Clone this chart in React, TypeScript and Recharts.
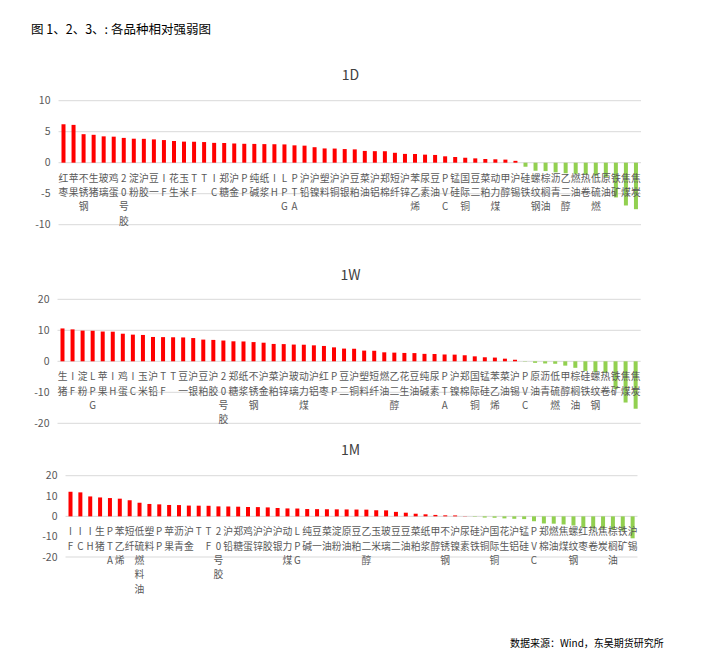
import React from "react";
import { BarChart, Bar, XAxis, YAxis, CartesianGrid, Cell } from "recharts";

// 1D
const names1D = ["红枣","苹果","不锈钢","生猪","玻璃","鸡蛋","20号胶","淀粉","沪胶","豆一","IF","花生","玉米","TF","T","IC","郑糖","沪金","PP","纯碱","纸浆","IH","LPG","PTA","沪铅","沪镍","塑料","沪铜","沪银","豆粕","菜油","沪铝","郑棉","短纤","沪锌","苯乙烯","尿素","豆油","PVC","锰硅","国际铜","豆二","菜粕","动力煤","甲醇","沪锡","硅铁","螺纹钢","棕榈油","沥青","乙二醇","燃油","热卷","低硫燃","原油","铁矿","焦煤","焦炭"];
const values1D = [6.2,6.1,4.6,4.5,4.25,4.2,4.0,3.87,3.85,3.76,3.65,3.5,3.4,3.38,3.33,3.2,3.18,3.1,3.05,3.03,3.0,2.98,2.95,2.8,2.75,2.5,2.3,2.28,2.2,2.15,1.9,1.86,1.85,1.6,1.42,1.4,1.3,1.25,1.03,0.92,0.8,0.7,0.6,0.55,0.5,0.3,-0.65,-1.3,-1.35,-1.55,-1.7,-1.8,-1.95,-2.1,-2.35,-5.6,-6.9,-7.5];

// 1W
const names1W = ["生猪","IF","淀粉","LPG","苹果","IH","鸡蛋","IC","玉米","沪铅","TF","T","豆一","沪银","豆粕","沪胶","20号胶","郑糖","纸浆","不锈钢","沪金","菜粕","沪锌","玻璃","动力煤","沪铝","红枣","PP","豆二","沪铜","塑料","短纤","燃油","乙二醇","花生","豆油","纯碱","尿素","PTA","沪镍","郑棉","国际铜","锰硅","苯乙烯","菜油","沪锡","PVC","原油","沥青","低硫燃","甲醇","棕榈油","硅铁","螺纹钢","热卷","铁矿","焦煤","焦炭"];
const values1W = [10.6,10.3,9.9,9.85,9.6,9.55,8.9,8.6,8.5,7.85,7.8,7.75,7.7,7.5,7.0,6.9,6.7,6.45,6.4,6.2,6.0,5.6,5.55,5.4,5.35,5.15,4.95,4.5,4.1,4.05,3.45,3.4,2.9,2.8,2.7,2.65,2.4,2.35,2.2,2.15,1.95,1.6,1.3,1.2,0.85,0.5,-0.1,-0.5,-0.7,-0.8,-1.4,-2.1,-3.1,-3.5,-3.7,-9.0,-13.3,-15.3];

// 1M
const names1M = ["IF","IC","IH","生猪","PTA","苯乙烯","短纤","低硫燃料油","塑料","PP","苹果","沥青","沪金","T","TF","20号胶","沪铅","郑糖","鸡蛋","沪锌","沪胶","沪银","动力煤","LPG","纯碱","豆一","菜油","淀粉","原油","豆粕","乙二醇","玉米","玻璃","豆二","豆油","菜粕","纸浆","甲醇","不锈钢","沪镍","尿素","硅铁","沪铜","国际铜","花生","沪铝","锰硅","PVC","郑棉","燃油","焦煤","螺纹钢","红枣","热卷","焦炭","棕榈油","铁矿","沪锡"];
const values1M = [12.1,11.8,9.8,9.3,9.0,8.7,7.9,6.7,6.1,5.9,5.6,5.55,5.3,5.25,5.2,4.9,4.85,4.75,4.6,4.55,4.4,4.1,3.9,3.85,3.6,3.55,3.5,3.45,3.4,3.35,3.3,3.0,2.95,2.2,1.8,1.3,1.0,0.7,0.5,0.45,0.1,-0.2,-0.6,-0.7,-1.0,-1.2,-1.35,-2.4,-3.5,-3.6,-4.0,-4.5,-5.6,-6.0,-6.1,-6.5,-7.1,-10.8];

const ticks1D = [-10, -5, 0, 5, 10];
const ticks20 = [-20, -10, 0, 10, 20];

const RED = "#FF0000";
const GREEN = "#92D050";
const FONT = "'Noto Sans CJK SC', 'Noto Sans', sans-serif";

// category names stacked one character per line, hung under the zero line
function CatTick(props: any) {
  const { x, payload, zeroY } = props;
  const chars = Array.from(String(payload.value));
  return (
    <text x={x} y={zeroY + 19} textAnchor="middle" fontSize={9.8} fill="#595959">
      {chars.map((c, i) => (
        <tspan key={i} x={x} dy={i === 0 ? 0 : 14.3}>{c}</tspan>
      ))}
    </text>
  );
}

interface PanelProps {
  names: string[];
  values: number[];
  ticks: number[];
  top: number;
  height: number;
  margin: { top: number; right: number; left: number; bottom: number };
  xHeight: number;
  title: string;
}

function Panel({ names, values, ticks, top, height, margin, xHeight, title }: PanelProps) {
  const data = names.map((n, i) => ({ name: n, v: values[i] }));
  const plotH = height - margin.top - margin.bottom - xHeight;
  const zeroY = margin.top + plotH / 2;
  return (
    <>
      <div style={{ position: "absolute", left: 0, width: 701, top: top - 24, textAlign: "center", fontSize: 14, color: "#404040", lineHeight: "16px" }}>
        {title}
      </div>
      <div style={{ position: "absolute", left: 0, top }}>
        <BarChart width={680} height={height} data={data} margin={margin}>
          <CartesianGrid vertical={false} stroke="#D9D9D9" />
          <XAxis
            dataKey="name"
            interval={0}
            axisLine={false}
            tickLine={false}
            height={xHeight}
            tick={(p: any) => <CatTick {...p} zeroY={zeroY} />}
          />
          <YAxis
            domain={[ticks[0], ticks[ticks.length - 1]]}
            ticks={ticks}
            axisLine={false}
            tickLine={false}
            width={45}
            tick={{ fill: "#595959", fontSize: 10.5 }}
          />
          <Bar dataKey="v" barSize={4} isAnimationActive={false}>
            {data.map((d, i) => (
              <Cell key={i} fill={d.v >= 0 ? RED : GREEN} />
            ))}
          </Bar>
        </BarChart>
      </div>
    </>
  );
}

export default function App() {
  return (
    <div style={{ position: "absolute", left: 0, top: 0, width: 701, height: 660, background: "#fff", fontFamily: FONT, overflow: "hidden" }}>
      <div style={{ position: "absolute", left: 31, top: 19, fontSize: 12.5, color: "#000" }}>
        图 1、2、3、: 各品种相对强弱图
      </div>

      <Panel names={names1D} values={values1D} ticks={ticks1D} title="1D"
        top={90} height={170} xHeight={30}
        margin={{ top: 10.7, right: 39, left: 13.5, bottom: 5.3 }} />
      <Panel names={names1W} values={values1W} ticks={ticks20} title="1W"
        top={290} height={170} xHeight={30}
        margin={{ top: 9.3, right: 39.3, left: 12.5, bottom: 6.7 }} />
      <Panel names={names1M} values={values1M} ticks={ticks20} title="1M"
        top={465} height={135} xHeight={40}
        margin={{ top: 10.7, right: 42.5, left: 20.5, bottom: 3 }} />

      <div style={{ position: "absolute", left: 510, top: 635, fontSize: 10, color: "#000" }}>
        数据来源：Wind，东吴期货研究所
      </div>
    </div>
  );
}
